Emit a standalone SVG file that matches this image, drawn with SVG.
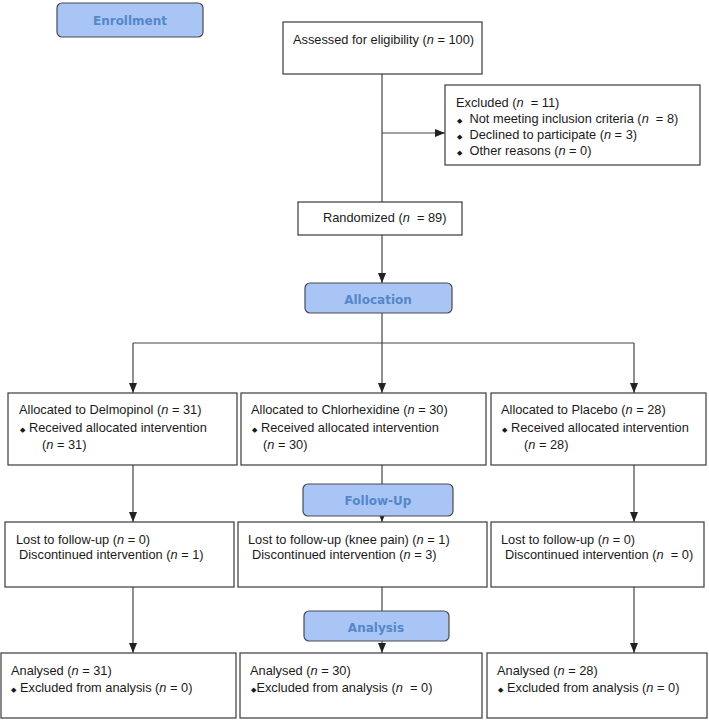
<svg xmlns="http://www.w3.org/2000/svg" width="709" height="720" viewBox="0 0 709 720">
<style>
.box{fill:#fff;stroke:#3a3a3a;stroke-width:1.2}
.stage{fill:#a9c5f6;stroke:#4a4a4a;stroke-width:1.2}
.st{font-family:"DejaVu Sans",Verdana,sans-serif;font-weight:bold;font-size:12px;fill:#5587c8;text-anchor:middle}
.t{font-family:"Liberation Sans",Arial,sans-serif;font-size:12.8px;fill:#1a1a1a}
.b{font-family:"DejaVu Sans",sans-serif;font-size:7px}
.c{fill:none;stroke:#444;stroke-width:1.2}
</style>
<defs>
<marker id="ah" markerUnits="userSpaceOnUse" markerWidth="10" markerHeight="10" viewBox="0 0 10 10" refX="10" refY="5" orient="auto">
<path d="M0,1 L10,5 L0,9 Z" fill="#222"/>
</marker>
</defs>
<g id="connectors">
<line class="c" x1="382" y1="74" x2="382" y2="202"/>
<line class="c" x1="382" y1="133" x2="445" y2="133" marker-end="url(#ah)"/>
<line class="c" x1="382" y1="235" x2="382" y2="283" marker-end="url(#ah)"/>
<line class="c" x1="382" y1="313" x2="382" y2="343"/>
<line class="c" x1="133" y1="343" x2="634" y2="343"/>
<line class="c" x1="133" y1="343" x2="133" y2="393" marker-end="url(#ah)"/>
<line class="c" x1="382" y1="343" x2="382" y2="393" marker-end="url(#ah)"/>
<line class="c" x1="634" y1="343" x2="634" y2="393" marker-end="url(#ah)"/>
<line class="c" x1="133" y1="465" x2="133" y2="522" marker-end="url(#ah)"/>
<line class="c" x1="382" y1="465" x2="382" y2="522" marker-end="url(#ah)"/>
<line class="c" x1="634" y1="465" x2="634" y2="522" marker-end="url(#ah)"/>
<line class="c" x1="133" y1="587" x2="133" y2="653" marker-end="url(#ah)"/>
<line class="c" x1="382" y1="587" x2="382" y2="653" marker-end="url(#ah)"/>
<line class="c" x1="634" y1="587" x2="634" y2="653" marker-end="url(#ah)"/>
</g>
<g id="enrollment">
<rect class="stage" x="57" y="3" width="146" height="34" rx="5"/>
<text class="st" x="130" y="25">Enrollment</text>
</g>
<g id="assessed">
<rect class="box" x="283" y="22" width="199" height="52"/>
<text class="t" x="293" y="44">Assessed for eligibility (<tspan font-style="italic">n</tspan> = 100)</text>
</g>
<g id="excluded">
<rect class="box" x="445" y="85" width="255" height="80"/>
<text class="t" x="456" y="107" xml:space="preserve">Excluded (<tspan font-style="italic">n</tspan>  = 11)</text>
<text class="t" x="457" y="123" xml:space="preserve"><tspan class="b">◆</tspan>  Not meeting inclusion criteria (<tspan font-style="italic">n</tspan>  = 8)</text>
<text class="t" x="457" y="139" xml:space="preserve"><tspan class="b">◆</tspan>  Declined to participate (<tspan font-style="italic">n</tspan> = 3)</text>
<text class="t" x="457" y="155" xml:space="preserve"><tspan class="b">◆</tspan>  Other reasons (<tspan font-style="italic">n</tspan> = 0)</text>
</g>
<g id="randomized">
<rect class="box" x="298" y="202" width="164" height="33"/>
<text class="t" x="323" y="222" xml:space="preserve">Randomized (<tspan font-style="italic">n</tspan>  = 89)</text>
</g>
<g id="allocation">
<rect class="stage" x="305" y="283" width="147" height="30" rx="5"/>
<text class="st" x="378" y="304">Allocation</text>
</g>
<g id="alloc-delmopinol">
<rect class="box" x="8" y="393" width="229" height="72"/>
<text class="t" x="19" y="414">Allocated to Delmopinol (<tspan font-style="italic">n</tspan> = 31)</text>
<text class="t" x="20" y="432" xml:space="preserve"><tspan class="b">◆</tspan> Received allocated intervention</text>
<text class="t" x="42" y="449">(<tspan font-style="italic">n</tspan> = 31)</text>
</g>
<g id="alloc-chlorhexidine">
<rect class="box" x="241" y="393" width="245" height="72"/>
<text class="t" x="251" y="414">Allocated to Chlorhexidine (<tspan font-style="italic">n</tspan> = 30)</text>
<text class="t" x="252" y="432" xml:space="preserve"><tspan class="b">◆</tspan> Received allocated intervention</text>
<text class="t" x="263" y="449">(<tspan font-style="italic">n</tspan> = 30)</text>
</g>
<g id="alloc-placebo">
<rect class="box" x="491" y="393" width="215" height="72"/>
<text class="t" x="501" y="414">Allocated to Placebo (<tspan font-style="italic">n</tspan> = 28)</text>
<text class="t" x="502" y="432" xml:space="preserve"><tspan class="b">◆</tspan> Received allocated intervention</text>
<text class="t" x="524" y="449">(<tspan font-style="italic">n</tspan> = 28)</text>
</g>
<g id="followup">
<rect class="stage" x="303" y="484" width="150" height="32" rx="5"/>
<text class="st" x="378" y="505">Follow-Up</text>
</g>
<g id="fu-delmopinol">
<rect class="box" x="5" y="522" width="229" height="65"/>
<text class="t" x="16" y="544">Lost to follow-up (<tspan font-style="italic">n</tspan> = 0)</text>
<text class="t" x="19" y="559">Discontinued intervention (<tspan font-style="italic">n</tspan> = 1)</text>
</g>
<g id="fu-chlorhexidine">
<rect class="box" x="238" y="522" width="249" height="65"/>
<text class="t" x="248" y="544">Lost to follow-up (knee pain) (<tspan font-style="italic">n</tspan> = 1)</text>
<text class="t" x="252" y="559">Discontinued intervention (<tspan font-style="italic">n</tspan> = 3)</text>
</g>
<g id="fu-placebo">
<rect class="box" x="491" y="522" width="213" height="65"/>
<text class="t" x="501" y="544">Lost to follow-up (<tspan font-style="italic">n</tspan> = 0)</text>
<text class="t" x="505" y="559" xml:space="preserve">Discontinued intervention (<tspan font-style="italic">n</tspan>  = 0)</text>
</g>
<g id="analysis">
<rect class="stage" x="304" y="611" width="145" height="30" rx="5"/>
<text class="st" x="376" y="632">Analysis</text>
</g>
<g id="an-delmopinol">
<rect class="box" x="1" y="653" width="235" height="65"/>
<text class="t" x="11" y="675">Analysed (<tspan font-style="italic">n</tspan> = 31)</text>
<text class="t" x="11" y="692" xml:space="preserve"><tspan class="b">◆</tspan> Excluded from analysis (<tspan font-style="italic">n</tspan> = 0)</text>
</g>
<g id="an-chlorhexidine">
<rect class="box" x="240" y="653" width="242" height="65"/>
<text class="t" x="250" y="675">Analysed (<tspan font-style="italic">n</tspan> = 30)</text>
<text class="t" x="251" y="692" xml:space="preserve"><tspan class="b">◆</tspan>Excluded from analysis (<tspan font-style="italic">n</tspan>  = 0)</text>
</g>
<g id="an-placebo">
<rect class="box" x="487" y="653" width="220" height="65"/>
<text class="t" x="497" y="675">Analysed (<tspan font-style="italic">n</tspan> = 28)</text>
<text class="t" x="498" y="692" xml:space="preserve"><tspan class="b">◆</tspan> Excluded from analysis (<tspan font-style="italic">n</tspan> = 0)</text>
</g>
</svg>
